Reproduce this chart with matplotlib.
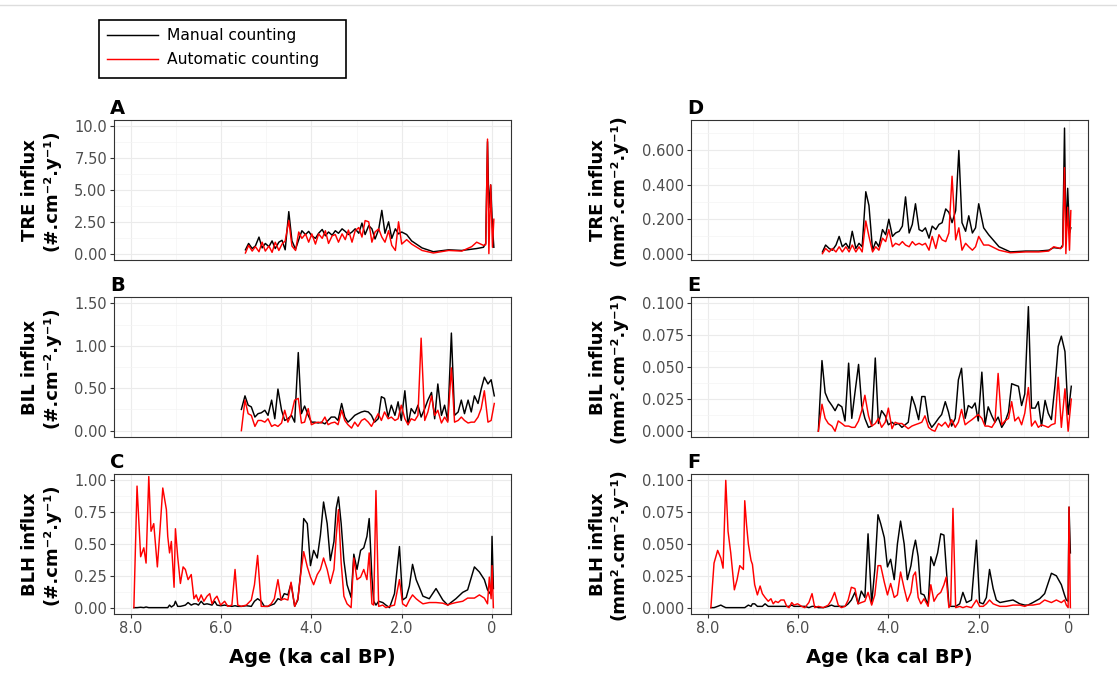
# influx: manual vs automatic counting, six panels
import numpy as np
import matplotlib
matplotlib.use('Agg')
import matplotlib.pyplot as plt
from matplotlib.lines import Line2D
from matplotlib.patches import Rectangle
from matplotlib.ticker import AutoMinorLocator

plt.rcParams['font.family'] = 'DejaVu Sans'

# ages (ka cal BP)
age_tre = [5.46, 5.39, 5.31, 5.24, 5.16, 5.09, 5.02, 4.94, 4.87, 4.80,
           4.72, 4.65, 4.58, 4.50, 4.43, 4.35, 4.28, 4.21, 4.13, 4.06,
           3.99, 3.91, 3.84, 3.76, 3.69, 3.62, 3.54, 3.47, 3.40, 3.32,
           3.25, 3.18, 3.10, 3.03, 2.95, 2.88, 2.81, 2.73, 2.66, 2.59,
           2.51, 2.44, 2.37, 2.29, 2.22, 2.14, 2.07, 2.00, 1.89, 1.78,
           1.55, 1.30, 0.96, 0.67, 0.45, 0.34, 0.19, 0.14, 0.10, 0.07,
           0.03, -0.01, -0.04]
age_bil = [5.55, 5.47, 5.40, 5.33, 5.25, 5.18, 5.11, 5.03, 4.96, 4.88,
           4.81, 4.74, 4.66, 4.59, 4.52, 4.44, 4.37, 4.29, 4.22, 4.15,
           4.07, 4.00, 3.92, 3.85, 3.78, 3.70, 3.63, 3.56, 3.48, 3.41,
           3.33, 3.26, 3.19, 3.11, 3.04, 2.97, 2.89, 2.82, 2.74, 2.67,
           2.60, 2.52, 2.45, 2.38, 2.30, 2.23, 2.15, 2.08, 2.01, 1.93,
           1.86, 1.79, 1.71, 1.64, 1.57, 1.49, 1.42, 1.34, 1.27, 1.20,
           1.12, 1.05, 0.98, 0.90, 0.83, 0.75, 0.68, 0.61, 0.53, 0.46,
           0.39, 0.31, 0.24, 0.17, 0.09, 0.02, -0.05]
age_blh = [7.93, 7.86, 7.78, 7.71, 7.66, 7.60, 7.55, 7.49, 7.41, 7.35,
           7.29, 7.21, 7.18, 7.14, 7.10, 7.04, 7.01, 6.96, 6.90, 6.84,
           6.79, 6.73, 6.66, 6.60, 6.55, 6.50, 6.44, 6.38, 6.31, 6.25,
           6.20, 6.14, 6.09, 6.01, 5.92, 5.85, 5.76, 5.69, 5.63, 5.55,
           5.44, 5.33, 5.26, 5.19, 5.11, 5.04, 4.96, 4.89, 4.82, 4.74,
           4.67, 4.60, 4.52, 4.45, 4.37, 4.30, 4.23, 4.17, 4.09, 4.02,
           3.95, 3.87, 3.80, 3.73, 3.65, 3.58, 3.50, 3.45, 3.40, 3.34,
           3.28, 3.21, 3.12, 3.06, 2.99, 2.91, 2.84, 2.77, 2.72, 2.66,
           2.62, 2.57, 2.51, 2.42, 2.35, 2.27, 2.16, 2.05, 1.98, 1.90,
           1.83, 1.76, 1.68, 1.61, 1.53, 1.39, 1.24, 1.09, 0.98, 0.91,
           0.80, 0.65, 0.54, 0.39, 0.28, 0.17, 0.10, 0.06, 0.02, 0.00,
           -0.03]

# TRE influx (#.cm-2.y-1)
tre_n_manual = [0.3, 0.8, 0.4, 0.6, 1.3, 0.45, 0.8, 0.55, 1.0, 0.4,
                0.9, 1.05, 0.3, 3.3, 1.0, 0.35, 1.1, 1.8, 1.5, 1.75,
                1.4, 1.2, 1.6, 1.9, 1.4, 1.7, 1.45, 1.8, 1.6, 1.95,
                1.75, 1.5, 1.7, 1.95, 1.6, 2.4, 1.5, 2.2, 1.95, 1.15,
                1.9, 3.4, 1.6, 2.5, 1.2, 1.95, 1.55, 1.7, 1.5, 1.0,
                0.45, 0.15, 0.3, 0.25, 0.35, 0.4, 0.5, 0.8, 8.8, 3.6,
                5.4, 2.1, 0.5]
tre_n_auto = [0.05, 0.65, 0.2, 0.55, 0.15, 0.9, 0.2, 0.6, 0.1, 0.9,
              0.25, 0.75, 1.0, 2.6, 0.6, 0.25, 1.7, 1.2, 1.55, 0.9,
              1.55, 0.75, 1.55, 1.2, 1.8, 0.8, 1.4, 1.5, 0.9, 1.55,
              1.1, 1.85, 0.9, 1.8, 2.05, 1.3, 2.6, 2.5, 0.9, 1.7,
              1.95, 1.3, 0.9, 1.8, 0.65, 0.25, 2.5, 0.75, 1.1, 0.75,
              0.25, 0.05, 0.25, 0.2, 0.55, 0.9, 0.65, 0.7, 9.0, 0.0,
              5.4, 0.5, 2.7]

# BIL influx (#.cm-2.y-1)
bil_n_manual = [0.25, 0.41, 0.30, 0.28, 0.16, 0.20, 0.21, 0.24, 0.18, 0.36,
                0.14, 0.49, 0.24, 0.12, 0.14, 0.18, 0.10, 0.92, 0.20, 0.29,
                0.18, 0.10, 0.10, 0.09, 0.10, 0.08, 0.12, 0.16, 0.16, 0.12,
                0.32, 0.16, 0.10, 0.14, 0.18, 0.20, 0.22, 0.23, 0.22, 0.18,
                0.10, 0.14, 0.40, 0.38, 0.16, 0.30, 0.18, 0.34, 0.12, 0.47,
                0.07, 0.26, 0.20, 0.30, 0.16, 0.26, 0.36, 0.45, 0.14, 0.55,
                0.18, 0.30, 0.12, 1.15, 0.18, 0.22, 0.36, 0.20, 0.36, 0.22,
                0.41, 0.32, 0.49, 0.63, 0.55, 0.60, 0.41]
bil_n_auto = [0.0, 0.36, 0.20, 0.18, 0.05, 0.12, 0.12, 0.10, 0.14, 0.05,
              0.07, 0.05, 0.09, 0.24, 0.10, 0.20, 0.36, 0.38, 0.09, 0.10,
              0.26, 0.07, 0.09, 0.10, 0.09, 0.16, 0.07, 0.09, 0.10, 0.07,
              0.24, 0.12, 0.07, 0.03, 0.10, 0.05, 0.12, 0.14, 0.10, 0.05,
              0.12, 0.20, 0.12, 0.22, 0.14, 0.16, 0.12, 0.14, 0.30, 0.14,
              0.07, 0.14, 0.12, 0.18, 1.09, 0.12, 0.22, 0.41, 0.18, 0.24,
              0.09, 0.16, 0.10, 0.74, 0.10, 0.12, 0.16, 0.12, 0.09, 0.10,
              0.10, 0.16, 0.26, 0.47, 0.10, 0.12, 0.32]

# BLH influx (#.cm-2.y-1)
blh_n_manual = [0.0, 0.0, 0.003, 0.0, 0.005, 0.0, 0.0, 0.0, 0.0, 0.0,
                0.0, 0.0, 0.0, 0.02, 0.005, 0.02, 0.05, 0.01, 0.01, 0.015,
                0.02, 0.04, 0.02, 0.03, 0.03, 0.02, 0.05, 0.025, 0.03, 0.025,
                0.02, 0.05, 0.02, 0.015, 0.02, 0.015, 0.01, 0.015, 0.01, 0.01,
                0.015, 0.01, 0.05, 0.07, 0.05, 0.01, 0.01, 0.02, 0.03, 0.07,
                0.06, 0.11, 0.10, 0.19, 0.01, 0.06, 0.30, 0.70, 0.66, 0.33,
                0.45, 0.39, 0.57, 0.83, 0.66, 0.37, 0.52, 0.78, 0.87, 0.66,
                0.37, 0.18, 0.08, 0.42, 0.30, 0.45, 0.47, 0.56, 0.70, 0.24,
                0.05, 0.02, 0.05, 0.04, 0.02, 0.0, 0.11, 0.48, 0.06, 0.08,
                0.17, 0.34, 0.22, 0.16, 0.09, 0.07, 0.15, 0.06, 0.02, 0.04,
                0.07, 0.12, 0.14, 0.32, 0.28, 0.22, 0.14, 0.12, 0.10, 0.56,
                0.15]
blh_n_auto = [0.0, 0.955, 0.40, 0.47, 0.35, 1.03, 0.60, 0.66, 0.32, 0.62,
              0.94, 0.77, 0.56, 0.43, 0.52, 0.16, 0.62, 0.40, 0.19, 0.32,
              0.30, 0.22, 0.26, 0.07, 0.10, 0.05, 0.10, 0.05, 0.09, 0.11,
              0.03, 0.07, 0.09, 0.02, 0.05, 0.01, 0.02, 0.30, 0.02, 0.01,
              0.02, 0.06, 0.18, 0.41, 0.01, 0.01, 0.01, 0.03, 0.07, 0.22,
              0.06, 0.07, 0.06, 0.20, 0.01, 0.07, 0.28, 0.44, 0.32, 0.24,
              0.18, 0.26, 0.30, 0.39, 0.30, 0.19, 0.30, 0.56, 0.77, 0.35,
              0.09, 0.03, 0.0, 0.39, 0.22, 0.24, 0.30, 0.22, 0.43, 0.03,
              0.02, 0.92, 0.01, 0.02, 0.0, 0.01, 0.02, 0.22, 0.03, 0.01,
              0.06, 0.10, 0.07, 0.05, 0.03, 0.04, 0.04, 0.035, 0.02, 0.03,
              0.04, 0.05, 0.075, 0.075, 0.10, 0.075, 0.03, 0.24, 0.07, 0.33,
              0.0]

# TRE influx (mm2.cm-2.y-1)
tre_a_manual = [0.01, 0.05, 0.03, 0.02, 0.05, 0.10, 0.04, 0.06, 0.03, 0.13,
                0.03, 0.06, 0.04, 0.36, 0.28, 0.02, 0.07, 0.04, 0.14, 0.11,
                0.20, 0.10, 0.12, 0.13, 0.16, 0.33, 0.12, 0.17, 0.29, 0.14,
                0.13, 0.15, 0.09, 0.16, 0.14, 0.17, 0.18, 0.26, 0.24, 0.18,
                0.25, 0.60, 0.18, 0.13, 0.22, 0.12, 0.15, 0.29, 0.15, 0.11,
                0.04, 0.01, 0.015, 0.015, 0.02, 0.035, 0.03, 0.05, 0.73, 0.10,
                0.38, 0.12, 0.15]
tre_a_auto = [0.0, 0.03, 0.01, 0.03, 0.01, 0.04, 0.01, 0.04, 0.01, 0.05,
              0.01, 0.04, 0.01, 0.19, 0.10, 0.01, 0.04, 0.02, 0.09, 0.07,
              0.14, 0.04, 0.06, 0.05, 0.07, 0.05, 0.04, 0.07, 0.05, 0.06,
              0.05, 0.06, 0.02, 0.10, 0.03, 0.11, 0.08, 0.07, 0.12, 0.45,
              0.08, 0.15, 0.02, 0.06, 0.04, 0.02, 0.04, 0.10, 0.05, 0.05,
              0.02, 0.005, 0.01, 0.01, 0.015, 0.04, 0.03, 0.04, 0.50, 0.0,
              0.27, 0.02, 0.25]

# BIL influx (mm2.cm-2.y-1)
bil_a_manual = [0.0, 0.055, 0.03, 0.024, 0.02, 0.016, 0.021, 0.019, 0.008, 0.053,
                0.01, 0.03, 0.052, 0.02, 0.01, 0.003, 0.004, 0.057, 0.006, 0.016,
                0.012, 0.005, 0.007, 0.005, 0.006, 0.003, 0.005, 0.007, 0.027, 0.02,
                0.009, 0.027, 0.027, 0.008, 0.003, 0.006, 0.01, 0.013, 0.023, 0.015,
                0.004, 0.01, 0.04, 0.049, 0.01, 0.02, 0.018, 0.022, 0.008, 0.046,
                0.005, 0.019, 0.012, 0.007, 0.011, 0.003, 0.007, 0.015, 0.037, 0.036,
                0.035, 0.02, 0.029, 0.097, 0.018, 0.018, 0.023, 0.004, 0.024, 0.014,
                0.009, 0.036, 0.066, 0.074, 0.062, 0.013, 0.035]
bil_a_auto = [0.0, 0.021, 0.01, 0.006, 0.004, 0.0, 0.008, 0.006, 0.004, 0.004,
              0.003, 0.003, 0.008, 0.016, 0.028, 0.012, 0.004, 0.006, 0.01, 0.003,
              0.007, 0.018, 0.002, 0.007, 0.006, 0.006, 0.004, 0.002, 0.004, 0.005,
              0.006, 0.007, 0.012, 0.003, 0.001, 0.0, 0.006, 0.004, 0.007, 0.003,
              0.009, 0.003, 0.007, 0.017, 0.005, 0.007, 0.009, 0.011, 0.013, 0.01,
              0.004, 0.004, 0.003, 0.007, 0.045, 0.005, 0.008, 0.01, 0.023, 0.008,
              0.011, 0.005, 0.014, 0.034, 0.004, 0.008, 0.003, 0.005, 0.004, 0.003,
              0.005, 0.006, 0.042, 0.003, 0.033, 0.0, 0.025]

# BLH influx (mm2.cm-2.y-1)
blh_a_manual = [0.0, 0.0, 0.001, 0.002, 0.001, 0.0, 0.0, 0.0, 0.0, 0.0,
                0.0, 0.0, 0.0, 0.001, 0.002, 0.001, 0.003, 0.003, 0.001, 0.001,
                0.001, 0.003, 0.001, 0.001, 0.001, 0.001, 0.001, 0.001, 0.001, 0.001,
                0.001, 0.002, 0.001, 0.001, 0.001, 0.001, 0.0, 0.001, 0.001, 0.0,
                0.0, 0.001, 0.002, 0.001, 0.001, 0.001, 0.001, 0.003, 0.006, 0.012,
                0.003, 0.013, 0.008, 0.058, 0.003, 0.03, 0.073, 0.066, 0.055, 0.032,
                0.038, 0.022, 0.05, 0.068, 0.05, 0.022, 0.033, 0.045, 0.053, 0.04,
                0.011, 0.01, 0.002, 0.04, 0.033, 0.043, 0.058, 0.057, 0.032, 0.002,
                0.001, 0.001, 0.001, 0.003, 0.012, 0.004, 0.006, 0.053, 0.004, 0.003,
                0.008, 0.03, 0.015, 0.006, 0.004, 0.005, 0.006, 0.003, 0.002, 0.002,
                0.004, 0.007, 0.011, 0.027, 0.025, 0.018, 0.01, 0.006, 0.005, 0.079,
                0.043]
blh_a_auto = [0.0, 0.035, 0.045, 0.039, 0.031, 0.1, 0.06, 0.043, 0.014, 0.022,
              0.033, 0.03, 0.084, 0.065, 0.05, 0.037, 0.034, 0.018, 0.01, 0.017,
              0.011, 0.008, 0.005, 0.007, 0.003, 0.005, 0.004, 0.006, 0.006, 0.001,
              0.0, 0.004, 0.002, 0.003, 0.001, 0.0, 0.004, 0.011, 0.0, 0.001,
              0.0, 0.002, 0.006, 0.012, 0.002, 0.0, 0.001, 0.006, 0.016, 0.015,
              0.003, 0.004, 0.005, 0.012, 0.002, 0.01, 0.033, 0.033, 0.02, 0.01,
              0.019, 0.008, 0.01, 0.028, 0.015, 0.005, 0.012, 0.025, 0.028, 0.008,
              0.003, 0.007, 0.001, 0.018, 0.005, 0.01, 0.012, 0.018, 0.024, 0.0,
              0.002, 0.078, 0.0, 0.001, 0.0, 0.001, 0.0, 0.006, 0.001, 0.001,
              0.003, 0.006, 0.003, 0.002, 0.001, 0.001, 0.002, 0.002, 0.001, 0.002,
              0.002, 0.003, 0.006, 0.004, 0.006, 0.004, 0.006, 0.002, 0.0, 0.079,
              0.0]

x_ticks = [8, 6, 4, 2, 0]
x_ticklabels = ['8.0', '6.0', '4.0', '2.0', '0']

panels = [
    # letter, ages, manual, auto, ylabel, yticks, yticklabels, ylim
    ('A', age_tre, tre_n_manual, tre_n_auto,
     'TRE influx\n(#.cm\u207b\u00b2.y\u207b\u00b9)',
     [0, 2.5, 5, 7.5, 10], ['0.00', '2.50', '5.00', '7.50', '10.0'], (-0.5, 10.5)),
    ('B', age_bil, bil_n_manual, bil_n_auto,
     'BIL influx\n(#.cm\u207b\u00b2.y\u207b\u00b9)',
     [0, 0.5, 1, 1.5], ['0.00', '0.50', '1.00', '1.50'], (-0.075, 1.575)),
    ('C', age_blh, blh_n_manual, blh_n_auto,
     'BLH influx\n(#.cm\u207b\u00b2.y\u207b\u00b9)',
     [0, 0.25, 0.5, 0.75, 1], ['0.00', '0.25', '0.50', '0.75', '1.00'], (-0.05, 1.05)),
    ('D', age_tre, tre_a_manual, tre_a_auto,
     'TRE influx\n(mm\u00b2.cm\u207b\u00b2.y\u207b\u00b9)',
     [0, 0.2, 0.4, 0.6], ['0.000', '0.200', '0.400', '0.600'], (-0.037, 0.777)),
    ('E', age_bil, bil_a_manual, bil_a_auto,
     'BIL influx\n(mm\u00b2.cm\u207b\u00b2.y\u207b\u00b9)',
     [0, 0.025, 0.05, 0.075, 0.1], ['0.000', '0.025', '0.050', '0.075', '0.100'],
     (-0.0045, 0.1045)),
    ('F', age_blh, blh_a_manual, blh_a_auto,
     'BLH influx\n(mm\u00b2.cm\u207b\u00b2.y\u207b\u00b9)',
     [0, 0.025, 0.05, 0.075, 0.1], ['0.000', '0.025', '0.050', '0.075', '0.100'],
     (-0.005, 0.105)),
]

W, H = 1117, 679
fig = plt.figure(figsize=(W / 100, H / 100), dpi=100)

col_left = [114, 691]
row_top = [120, 297, 474]
panel_w, panel_h = 397, 140

for i, (letter, age, manual, auto, ylab, yt, ytl, ylim) in enumerate(panels):
    col, row = i // 3, i % 3
    ax = fig.add_axes([col_left[col] / W, 1 - (row_top[row] + panel_h) / H,
                       panel_w / W, panel_h / H])
    ax.plot(age, manual, color='black', lw=1.05)
    ax.plot(age, auto, color='#ff0000', lw=1.05)

    ax.set_xlim(8.37, -0.42)
    ax.set_ylim(*ylim)
    ax.set_xticks(x_ticks)
    ax.set_yticks(yt)
    ax.set_yticklabels(ytl)
    ax.xaxis.set_minor_locator(AutoMinorLocator(2))
    ax.yaxis.set_minor_locator(AutoMinorLocator(2))
    ax.grid(which='major', color='#ebebeb', lw=0.8)
    ax.grid(which='minor', color='#f4f4f4', lw=0.5)
    ax.set_axisbelow(True)
    ax.tick_params(which='minor', length=0)
    ax.tick_params(which='major', length=3, width=0.8, color='#333333',
                   labelcolor='#4d4d4d', labelsize=10.5, pad=2)
    for sp in ax.spines.values():
        sp.set_color('#333333')
        sp.set_linewidth(0.8)

    if row == 2:
        ax.set_xticklabels(x_ticklabels)
        ax.set_xlabel('Age (ka cal BP)', fontsize=14, fontweight='bold',
                      labelpad=9)
    else:
        ax.tick_params(axis='x', which='both', length=0, labelbottom=False)

    ax.set_ylabel(ylab, fontsize=13, fontweight='bold', labelpad=10,
                  linespacing=1.2)
    ax.text(-0.01, 1.015, letter, transform=ax.transAxes, ha='left',
            va='bottom', fontsize=14, fontweight='bold')

# legend: keys without frame, box drawn separately
fig.add_artist(Rectangle((99 / W, 1 - 78 / H), 247 / W, 58 / H,
                         transform=fig.transFigure, fill=False,
                         edgecolor='black', lw=1.2))
handles = [Line2D([], [], color='black', lw=1.05),
           Line2D([], [], color='#ff0000', lw=1.05)]
fig.legend(handles, ['Manual counting', 'Automatic counting'],
           loc='upper left', bbox_to_anchor=(107 / W, 1 - 28 / H),
           fontsize=11.2, frameon=False, handlelength=3.3,
           borderaxespad=0, borderpad=0, labelspacing=0.6,
           handletextpad=0.58)

# thin rule along the top
fig.add_artist(Line2D([0, 1], [1 - 5 / H, 1 - 5 / H], color='#dddddd', lw=1,
                      transform=fig.transFigure))

fig.savefig('out.png', dpi=100)
